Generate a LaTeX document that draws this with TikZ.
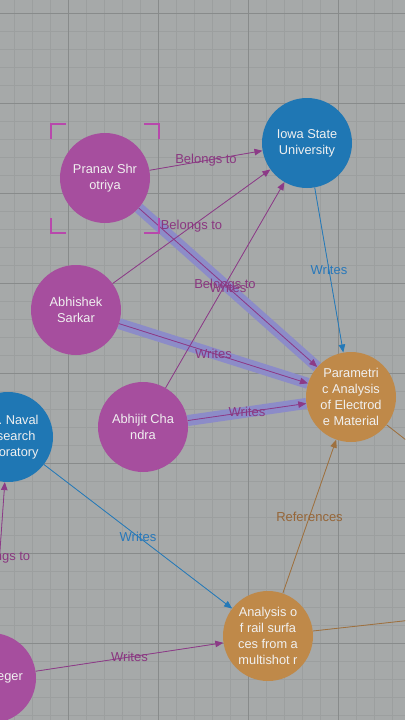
\documentclass[tikz,border=0pt]{standalone}
\usepackage{fontspec}
\setmainfont{Liberation Sans}
\usetikzlibrary{arrows.meta}
\definecolor{bgc}{RGB}{166,169,169}
\definecolor{gridminor}{RGB}{156,159,159}
\definecolor{gridmajor}{RGB}{136,139,139}
\definecolor{pnode}{RGB}{166,78,158}
\definecolor{bnode}{RGB}{31,119,180}
\definecolor{onode}{RGB}{191,137,73}
\definecolor{pline}{RGB}{140,58,135}
\definecolor{bline}{RGB}{36,121,184}
\definecolor{oline}{RGB}{158,112,62}
\definecolor{plab}{RGB}{138,55,128}
\definecolor{blab}{RGB}{40,120,186}
\definecolor{olab}{RGB}{150,102,56}
\definecolor{hl}{RGB}{140,140,200}
\definecolor{selc}{RGB}{184,72,172}
\pgfdeclarelayer{bg}
\pgfdeclarelayer{edges}
\pgfsetlayers{bg,edges,main}
\begin{document}
\begin{tikzpicture}[x=1pt,y=-1pt,
  ent/.style={circle,minimum size=90pt,inner sep=0pt,text={white!94!black},align=center,font=\fontsize{12.8}{16}\selectfont},
  person/.style={ent,fill=pnode},
  org/.style={ent,fill=bnode},
  paper/.style={ent,fill=onode},
  rel/.style={line width=0.8pt,-{Triangle[length=8pt,width=6.5pt]}},
  prel/.style={rel,draw=pline,fill=pline},
  brel/.style={rel,draw=bline,fill=bline},
  orel/.style={rel,draw=oline,fill=oline},
  elab/.style={font=\fontsize{13}{14}\selectfont,inner sep=0pt},
  plabel/.style={elab,text=plab},
  blabel/.style={elab,text=blab},
  olabel/.style={elab,text=olab},
  hlband/.style={line width=11pt,draw=hl},
  selmark/.style={draw=selc,line width=1.8pt},
]
\useasboundingbox (0,0) rectangle (405,720);

\begin{pgfonlayer}{bg}
\begin{scope}
\clip (0,0) rectangle (405,720);
\fill[bgc] (0,0) rectangle (405,720);
\foreach \x in {-4,14,...,410} \draw[gridminor,line width=0.6pt] (\x,0) -- (\x,720);
\foreach \y in {-5,13,...,730} \draw[gridminor,line width=0.6pt] (0,\y) -- (405,\y);
\foreach \x in {68,158,248,338} \draw[gridmajor,line width=1pt] (\x,0) -- (\x,720);
\foreach \y in {13,103,...,730} \draw[gridmajor,line width=1pt] (0,\y) -- (405,\y);
\end{scope}
\end{pgfonlayer}

\begin{scope}
\clip (0,0) rectangle (405,720);
\node[person] (pranav) at (105,178) {Pranav Shr\\otriya};
\node[org] (iowa) at (307,143) {Iowa State\\University};
\node[person] (abhishek) at (76,310) {Abhishek\\Sarkar};
\node[person] (abhijit) at (143,427) {Abhijit Cha\\ndra};
\node[paper] (param) at (351,397) {Parametri\\c Analysis\\of Electrod\\e Material};
\node[org] (naval) at (8,437) {U.S. Naval\\Research\\Laboratory};
\node[paper] (rail) at (268,636) {Analysis o\\f rail surfa\\ces from a\\multishot r};
\node[person] (eger) at (-9,678) {\hspace*{38pt}eger};
\coordinate (offA) at (470,490);
\coordinate (offB) at (520,608);
% selection marks around Pranav
\draw[selmark] (51,139) -- (51,124) -- (66,124);
\draw[selmark] (144,124) -- (159,124) -- (159,139);
\draw[selmark] (51,218) -- (51,233) -- (66,233);
\draw[selmark] (144,233) -- (159,233) -- (159,218);
\end{scope}

\begin{pgfonlayer}{edges}
\begin{scope}
\clip (0,0) rectangle (405,720);
\draw[hlband] (pranav) -- (param);
\draw[hlband] (abhishek) -- (param);
\draw[hlband] (abhijit) -- (param);
\draw[prel] (pranav) -- node[plabel]{Belongs to} (iowa);
\draw[prel] (abhishek) -- node[plabel]{Belongs to} (iowa);
\draw[prel] (abhijit) -- node[plabel]{Belongs to} (iowa);
\draw[prel] (pranav) -- node[plabel]{Writes} (param);
\draw[prel] (abhishek) -- node[plabel]{Writes} (param);
\draw[prel] (abhijit) -- node[plabel]{Writes} (param);
\draw[brel] (iowa) -- node[blabel]{Writes} (param);
\draw[brel] (naval) -- node[blabel]{Writes} (rail);
\draw[prel] (eger) -- node[plabel]{Belongs to} (naval);
\draw[prel] (eger) -- node[plabel]{Writes} (rail);
\draw[orel] (rail) -- node[olabel]{References} (param);
\draw[orel] (param) -- (offA);
\draw[orel] (rail) -- (offB);
\end{scope}
\end{pgfonlayer}
\end{tikzpicture}
\end{document}
